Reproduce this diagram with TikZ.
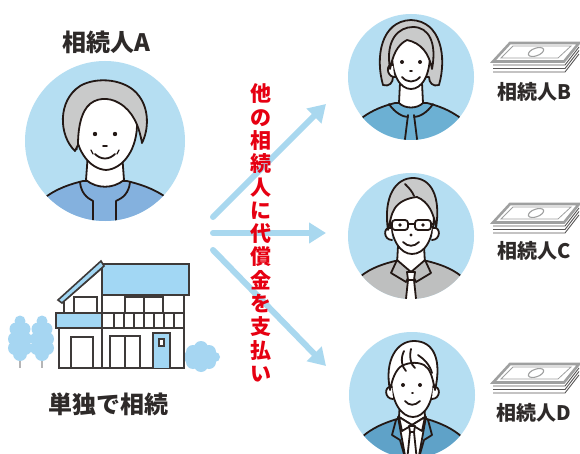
\documentclass[tikz,border=0pt]{standalone}
\usepackage{fontspec}
\newfontfamily\jp{Noto Sans CJK JP}
\usetikzlibrary{arrows.meta}
\definecolor{disc}{HTML}{B5DEF2}
\definecolor{ink}{HTML}{231815}
\definecolor{txt}{HTML}{2E2A29}
\definecolor{hairgray}{HTML}{C9CACA}
\definecolor{jacketA}{HTML}{84B1DE}
\definecolor{blouseB}{HTML}{6CB0D3}
\definecolor{shirtC}{HTML}{BEBFBF}
\definecolor{suitD}{HTML}{5FA2C8}
\definecolor{arrowblue}{HTML}{A9D8EF}
\definecolor{alert}{HTML}{E60012}
\definecolor{roof}{HTML}{A2D7F4}
\definecolor{wall}{HTML}{3E3A39}
\definecolor{leaf}{HTML}{A6D6F2}
\definecolor{trunk}{HTML}{B5B5B6}
\definecolor{billgray}{HTML}{9FA0A0}
\definecolor{billedge}{HTML}{595757}

\tikzset{
  outline/.style={draw=ink, line width=1.8pt, line join=round, line cap=round},
  wallline/.style={draw=wall, line width=1.6pt, line join=miter},
  bigtitle/.style={font=\jp\bfseries\fontsize{24}{24}\selectfont, text=txt, inner sep=0pt},
  smalltitle/.style={font=\jp\bfseries\fontsize{20}{20}\selectfont, text=txt, inner sep=0pt},
  portrait/.style={circle, fill=disc, inner sep=0pt, draw=none},
  flow/.style={draw=arrowblue, line width=6pt, line cap=round,
    -{Triangle[width=20pt,length=17pt]}},
  cash/.pic={
    % edges of the bills below the top one
    \foreach \yy in {23,26.5,30}
      \draw[billedge, line width=0.9pt] (0,\yy) -- (72,\yy) -- (86,\yy-18);
    % top bill
    \filldraw[fill=white, draw=billgray, line width=2.6pt, line join=miter]
      (0,19.5) -- (17,1) -- (86,1) -- (71,19.5) -- cycle;
    \draw[billgray, line width=0.8pt] (8,16) -- (20,4) -- (78,4) -- (65,16) -- cycle;
    \draw[billgray, line width=1.1pt, rotate around={20:(43,10)}] (43,10) ellipse (8 and 3.8);
  }
}

\begin{document}
\begin{tikzpicture}[x=1pt,y=-1pt]
\useasboundingbox[fill=white] (0,0) rectangle (580,454);

% ---------- flow arrows ----------
\coordinate (fanT) at (213,217);
\coordinate (fanM) at (213,233);
\coordinate (fanB) at (213,250);
\coordinate (tipB) at (326,104);
\coordinate (tipC) at (326,233);
\coordinate (tipD) at (326,366);
\draw[flow] (fanT) -- (tipB);
\draw[flow] (fanM) -- (tipC);
\draw[flow] (fanB) -- (tipD);

% ---------- heir A ----------
\node[bigtitle] (labA) at (106,42) {相続人A};
\begin{scope}[shift={(105,141)}]
  \node[portrait, minimum size=160pt] (heirA) at (0,0) {};
  \clip (0,0) circle (80);
  \filldraw[outline, fill=jacketA] (-90,100) -- (-62,58)
    .. controls (-48,47) and (-34,43) .. (-22,40) -- (22,40)
    .. controls (34,43) and (48,47) .. (62,57) -- (90,100) -- cycle;
  \filldraw[outline, fill=white] (-17,12) -- (-19,39)
    .. controls (-8,48) and (8,48) .. (19,39) -- (17,12) -- cycle;
  \draw[outline] (-25,41) .. controls (-24,52) and (-18,57) .. (-12,60) -- (-12,95);
  \draw[outline] (25,41) .. controls (24,52) and (18,57) .. (11,60) -- (11,95);
  \filldraw[outline, fill=white] (-30,-20) .. controls (-31,8) and (-16,28) .. (1,29)
    .. controls (18,28) and (33,8) .. (32,-20)
    .. controls (32,-60) and (-30,-60) .. (-30,-20) -- cycle;
  \filldraw[outline, fill=white] (-29,-8) .. controls (-38,-10) and (-38,6) .. (-28,8);
  \filldraw[outline, fill=hairgray] (-30,10) .. controls (-46,-5) and (-48,-40) .. (-25,-55)
    .. controls (-8,-65) and (22,-62) .. (34,-45)
    .. controls (44,-32) and (44,-12) .. (37,2)
    .. controls (34,-15) and (28,-30) .. (14,-38)
    .. controls (4,-44) and (-10,-44) .. (-18,-34)
    .. controls (-25,-25) and (-27,-10) .. (-27,4) -- cycle;
  \fill[ink] (-10,-7) circle (2.2);
  \fill[ink] (10,-7) circle (2.2);
  \draw[outline] (-2,5) -- (2,5);
  \draw[outline] (-10,13) .. controls (-4,19) and (4,19) .. (10,13);
  \draw[outline, line width=1.2pt] (-14,9) -- (-12,13);
  \draw[outline, line width=1.2pt] (14,9) -- (12,13);
\end{scope}

% ---------- house ----------
% trees
\foreach \tx in {20,42} {
  \draw[trunk, line width=2.6pt] (\tx,352) -- (\tx,368);
  \fill[leaf] (\tx,321) circle (5.5) (\tx-4,329) circle (6.5) (\tx+4,329) circle (6.5)
    (\tx-5,339) circle (7) (\tx+5,339) circle (7) (\tx-5,348) circle (7) (\tx+5,348) circle (7)
    (\tx,354) circle (7);
}
% bush
\fill[leaf] (193,352) circle (7) (201,348) circle (7) (209,352) circle (7)
  (193,362) circle (7) (201,365) circle (7) (209,362) circle (7) (201,357) circle (8)
  (187,357) circle (5) (215,357) circle (5);
% roofs
\filldraw[wallline, fill=roof] (102,264) rectangle (189,295);
\filldraw[wallline, fill=white] (64,301) -- (102,268) -- (102,313) -- (64,313) -- cycle;
\filldraw[wallline, fill=roof] (58,300) -- (101,261) -- (104,266) -- (62,303) -- cycle;
% upper floor
\filldraw[wallline, fill=white] (102,295) rectangle (184,313);
\draw[wallline] (74,313) -- (74,297) -- (97,297) -- (97,313);
\draw[wallline] (125,313) -- (125,297) -- (163,297) -- (163,313);
\draw[wallline] (144,297) -- (144,313);
% balcony band
\filldraw[wallline, fill=roof] (56,313) rectangle (102,328);
\filldraw[wallline, fill=white] (102,313) rectangle (184,328);
\foreach \bx in {114,124,134,144,154,164,174}
  \draw[wallline] (\bx,313) -- (\bx,328);
% ground floor
\filldraw[wallline, fill=white] (59,328) rectangle (184,368);
\draw[wallline] (102,328) -- (102,368);
\draw[wallline] (71,368) -- (71,337) -- (93,337) -- (93,368);
\draw[wallline] (110,368) -- (110,336) -- (140,336) -- (140,368);
\draw[wallline] (125,336) -- (125,368);
\filldraw[wallline, fill=roof] (153,368) -- (153,333) -- (170,333) -- (170,368);
\filldraw[wallline, fill=white, line width=1.2pt] (159,339) rectangle (164,346);
\node[bigtitle] (labHouse) at (108,404) {単独で相続};

% ---------- payment text ----------
\node[font=\jp\bfseries\fontsize{21}{23.3}\selectfont, text=alert, align=center, inner sep=0pt]
  (pay) at (261,233) {他\\の\\相\\続\\人\\に\\代\\償\\金\\を\\支\\払\\い};

% ---------- heir B ----------
\begin{scope}[shift={(411,77)}]
  \node[portrait, minimum size=126pt] (heirB) at (0,0) {};
  \clip (0,0) circle (63);
  \filldraw[outline, fill=blouseB] (-75,95) -- (-48,40)
    .. controls (-38,33) and (-28,29) .. (-16,26) -- (16,26)
    .. controls (28,29) and (38,33) .. (48,40) -- (75,95) -- cycle;
  \filldraw[outline, fill=white] (-11,6) -- (-12,26) .. controls (-6,32) and (6,32) .. (12,26) -- (11,6) -- cycle;
  \draw[outline] (-22,27) .. controls (-16,36) and (-8,40) .. (-3,40);
  \draw[outline] (22,27) .. controls (16,36) and (8,40) .. (3,40);
  \draw[outline] (-3,38) -- (-7,70);
  \draw[outline] (3,38) -- (7,70);
  \filldraw[outline, fill=hairgray] (-28,8) .. controls (-36,-20) and (-30,-56) .. (0,-57)
    .. controls (30,-56) and (36,-20) .. (28,8)
    .. controls (22,10) and (18,6) .. (18,0) -- (-18,0)
    .. controls (-18,6) and (-22,10) .. (-28,8) -- cycle;
  \filldraw[outline, fill=white] (-19,-28) .. controls (-20,0) and (-10,12) .. (0,12)
    .. controls (10,12) and (20,0) .. (19,-28) .. controls (18,-56) and (-18,-56) .. (-19,-28) -- cycle;
  \filldraw[outline, fill=white] (-18,-12) .. controls (-25,-14) and (-25,-1) .. (-17,0);
  \filldraw[outline, fill=hairgray] (-21,-8) .. controls (-26,-38) and (-12,-50) .. (2,-50)
    .. controls (18,-50) and (26,-34) .. (21,-8)
    .. controls (18,-24) and (10,-34) .. (-4,-37)
    .. controls (-14,-32) and (-18,-22) .. (-21,-8) -- cycle;
  \fill[ink] (-9,-15) circle (2);
  \fill[ink] (9,-15) circle (2);
  \draw[outline] (-1,-6) -- (1,-6);
  \draw[outline] (-9,0) .. controls (-4,6) and (4,6) .. (9,0);
\end{scope}
\pic at (493,42) {cash};
\node[smalltitle] (labB) at (534,92) {相続人B};

% ---------- heir C ----------
\begin{scope}[shift={(411,236)}]
  \node[portrait, minimum size=126pt] (heirC) at (0,0) {};
  \clip (0,0) circle (63);
  \filldraw[outline, fill=shirtC] (-75,95) -- (-50,40)
    .. controls (-40,32) and (-28,28) .. (-16,25) -- (16,25)
    .. controls (28,28) and (40,32) .. (50,40) -- (75,95) -- cycle;
  \filldraw[outline, fill=white] (-13,10) -- (-14,28) -- (0,36) -- (14,28) -- (13,10) -- cycle;
  \filldraw[outline, fill=shirtC] (-14,24) -- (-20,37) -- (-5,46) -- (0,36) -- cycle;
  \filldraw[outline, fill=shirtC] (14,24) -- (20,37) -- (5,46) -- (0,36) -- cycle;
  \filldraw[outline, fill=white] (-3,44) -- (-6,72) -- (6,72) -- (3,44) -- cycle;
  \filldraw[outline, fill=white] (-4,36) -- (4,36) -- (3,44) -- (-3,44) -- cycle;
  \filldraw[outline, fill=white] (-21,-28) .. controls (-22,5) and (-10,18) .. (1,18)
    .. controls (13,18) and (24,5) .. (23,-28)
    .. controls (23,-62) and (-21,-62) .. (-21,-28) -- cycle;
  \filldraw[outline, fill=white] (-20,-8) .. controls (-28,-10) and (-28,4) .. (-19,4);
  \filldraw[outline, fill=white] (22,-8) .. controls (30,-10) and (30,4) .. (21,4);
  \filldraw[outline, fill=hairgray] (-23,-6) .. controls (-28,-40) and (-15,-58) .. (2,-58)
    .. controls (20,-58) and (30,-40) .. (25,-8)
    .. controls (23,-22) and (18,-34) .. (6,-39)
    .. controls (-4,-38) and (-12,-34) .. (-16,-28)
    .. controls (-20,-22) and (-21,-14) .. (-23,-6) -- cycle;
  \draw[outline] (-6,-52) .. controls (-2,-48) and (1,-45) .. (3,-40);
  \draw[outline, rounded corners=3pt] (-19,-16) rectangle (-3,-6);
  \draw[outline, rounded corners=3pt] (4,-16) rectangle (20,-6);
  \draw[outline] (-3,-12) -- (4,-12);
  \draw[outline] (-19,-12) -- (-22,-12);
  \draw[outline] (20,-12) -- (23,-12);
  \fill[ink] (-11,-11) circle (1.8);
  \fill[ink] (12,-11) circle (1.8);
  \fill[ink] (0,-1) circle (1.6);
  \draw[outline] (-8,6) .. controls (-3,11) and (3,11) .. (8,6);
\end{scope}
\pic at (493,203) {cash};
\node[smalltitle] (labC) at (534,251) {相続人C};

% ---------- heir D ----------
\begin{scope}[shift={(412,395)}]
  \node[portrait, minimum size=126pt] (heirD) at (0,0) {};
  \clip (0,0) circle (63);
  \filldraw[outline, fill=suitD] (-75,95) -- (-50,42)
    .. controls (-40,33) and (-28,28) .. (-15,24) -- (15,24)
    .. controls (28,28) and (40,33) .. (50,42) -- (75,95) -- cycle;
  \filldraw[outline, fill=white] (-14,22) -- (-6,66) -- (6,66) -- (14,22) -- cycle;
  \draw[outline] (-16,25) -- (-20,40) -- (-12,45) -- (-6,66);
  \draw[outline] (16,25) -- (20,40) -- (12,45) -- (6,66);
  \filldraw[outline, fill=white] (-12,6) -- (-13,22) -- (0,30) -- (13,22) -- (12,6) -- cycle;
  \filldraw[outline, fill=white] (-13,22) -- (-10,36) -- (0,30) -- cycle;
  \filldraw[outline, fill=white] (13,22) -- (10,36) -- (0,30) -- cycle;
  \filldraw[outline, fill=white] (-2,37) -- (-5,66) -- (5,66) -- (2,37) -- cycle;
  \filldraw[outline, fill=white] (-3,31) -- (3,31) -- (2,37) -- (-2,37) -- cycle;
  \filldraw[outline, fill=white] (-21,-22) .. controls (-22,8) and (-10,22) .. (1,22)
    .. controls (12,22) and (23,8) .. (22,-22)
    .. controls (22,-56) and (-21,-56) .. (-21,-22) -- cycle;
  \filldraw[outline, fill=white] (-20,-8) .. controls (-28,-10) and (-28,4) .. (-19,4);
  \filldraw[outline, fill=white] (21,-8) .. controls (29,-10) and (29,4) .. (20,4);
  \filldraw[outline, fill=white] (-22,-5) .. controls (-28,-35) and (-15,-54) .. (2,-54)
    .. controls (22,-54) and (30,-35) .. (23,-5)
    .. controls (20,-20) and (18,-26) .. (12,-30)
    .. controls (4,-34) and (-6,-32) .. (-12,-28)
    .. controls (-18,-22) and (-20,-14) .. (-22,-5) -- cycle;
  \draw[outline] (-8,-44) .. controls (-12,-36) and (-10,-28) .. (-6,-24);
  \draw[outline] (-1,-46) .. controls (-3,-38) and (-1,-30) .. (3,-27);
  \draw[outline] (6,-40) .. controls (12,-36) and (18,-30) .. (20,-22);
  \fill[ink] (-9,-10) circle (2);
  \fill[ink] (8,-10) circle (2);
  \draw[outline] (0,-2) -- (1,-2);
  \draw[outline] (-7,6) .. controls (-3,11) and (3,11) .. (8,6);
\end{scope}
\pic at (493,363) {cash};
\node[smalltitle] (labD) at (534,413) {相続人D};
\end{tikzpicture}
\end{document}
